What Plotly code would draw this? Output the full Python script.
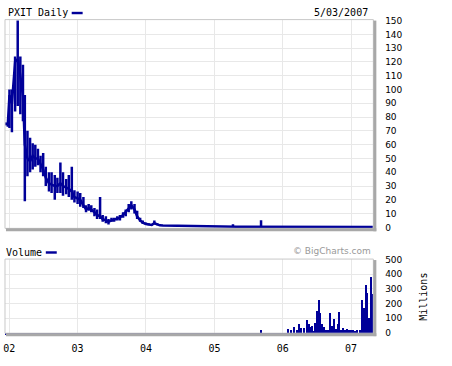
import plotly.graph_objects as go

# ---------------- data ----------------
price_dates = [
    "2001-12-10", "2001-12-24", "2002-01-02", "2002-01-15", "2002-02-01", "2002-02-15",
    "2002-03-01", "2002-03-15", "2002-03-25", "2002-04-08", "2002-04-22", "2002-05-06",
    "2002-05-20", "2002-06-03", "2002-06-17", "2002-07-01", "2002-07-15", "2002-08-01",
    "2002-08-15", "2002-09-01", "2002-09-15", "2002-10-01", "2002-10-15", "2002-11-01",
    "2002-11-15", "2002-12-01", "2002-12-15", "2003-01-01", "2003-01-15", "2003-02-01",
    "2003-02-15", "2003-03-01", "2003-03-15", "2003-04-01", "2003-04-15", "2003-05-01",
    "2003-05-15", "2003-06-01", "2003-06-15", "2003-07-01", "2003-07-15", "2003-08-01",
    "2003-08-15", "2003-09-01", "2003-09-15", "2003-10-01", "2003-10-15", "2003-11-01",
    "2003-11-15", "2003-12-01", "2003-12-15", "2004-01-01", "2004-01-15", "2004-02-01",
    "2004-02-15", "2004-03-01", "2004-03-15", "2004-04-01", "2004-05-01", "2004-06-01",
    "2004-07-01", "2004-08-01", "2004-09-01", "2004-10-01", "2004-11-01", "2004-12-01",
    "2005-01-01", "2005-02-01", "2005-03-01", "2005-04-10", "2005-05-01", "2005-06-01",
    "2005-07-01", "2005-08-01", "2005-09-07", "2005-10-01", "2005-11-01", "2005-12-01",
    "2006-01-01", "2006-02-01", "2006-03-01", "2006-04-01", "2006-05-01", "2006-06-01",
    "2006-07-01", "2006-08-01", "2006-09-01", "2006-10-01", "2006-11-01", "2006-12-01",
    "2007-01-01", "2007-02-01", "2007-03-01", "2007-04-01", "2007-04-27",
]
price_low = [
    74, 73, 72, 69, 84, 88,
    82, 77, 19, 37, 40, 42,
    44, 45, 40, 37, 30, 26,
    25, 20, 25, 25, 23, 24,
    22, 20, 18, 17, 15, 14,
    11, 12, 11, 8, 6, 6,
    4, 3, 2, 4, 4, 5,
    5, 7, 8, 11, 13, 10,
    6, 4, 2.5, 1.8, 1.5, 1.3,
    2, 1.5, 1.2, 1.0, 1.0, 0.9,
    0.8, 0.6, 0.6, 0.5, 0.6, 0.5,
    0.4, 0.4, 0.3, 0.3, 0.3, 0.3,
    0.3, 0.3, 0.3, 0.3, 0.2, 0.2,
    0.2, 0.2, 0.2, 0.2, 0.2, 0.2,
    0.2, 0.2, 0.2, 0.2, 0.2, 0.2,
    0.2, 0.2, 0.2, 0.2, 0.2,
]
price_high = [
    76, 76, 100, 100, 124, 150,
    124, 118, 96, 70, 65, 61,
    60, 57, 52, 54, 44, 40,
    40, 38, 36, 47, 40, 35,
    38, 44, 27, 26, 25, 22,
    16, 17, 16, 14, 13, 22,
    9, 8, 6, 7, 7, 8,
    9, 11, 13, 17, 19, 17,
    12, 7, 5, 3.5, 3, 2.5,
    5, 3, 2.2, 1.8, 1.5, 1.4,
    1.3, 1.1, 1.0, 0.9, 1.2, 0.9,
    0.8, 0.7, 0.6, 2.2, 0.6, 0.5,
    0.5, 0.5, 5.2, 0.5, 0.4, 0.4,
    0.5, 0.5, 0.5, 0.5, 0.5, 0.5,
    0.5, 0.5, 0.5, 0.5, 0.5, 0.5,
    0.5, 0.5, 0.5, 0.5, 0.5,
]
price_close = [
    75, 75, 96, 90, 120, 122,
    110, 95, 60, 50, 48, 52,
    50, 50, 46, 42, 36, 32,
    31, 30, 30, 32, 30, 29,
    28, 26, 22, 21, 20, 16,
    13, 14, 13, 11, 9, 8,
    6, 5, 4, 5, 5.5, 6,
    7, 9, 11, 14, 16, 13,
    8, 5, 3.5, 2.5, 2, 1.8,
    3, 2, 1.5, 1.3, 1.2, 1.1,
    1.0, 0.8, 0.8, 0.7, 0.8, 0.7,
    0.6, 0.5, 0.5, 0.4, 0.4, 0.4,
    0.4, 0.35, 0.4, 0.35, 0.3, 0.3,
    0.3, 0.3, 0.3, 0.3, 0.3, 0.3,
    0.3, 0.3, 0.3, 0.3, 0.3, 0.3,
    0.3, 0.3, 0.3, 0.3, 0.3,
]

vol_dates = [
    "2005-09-06", "2006-01-27", "2006-02-12", "2006-03-02", "2006-03-16", "2006-03-28",
    "2006-04-11", "2006-04-27", "2006-05-12", "2006-05-19", "2006-05-29", "2006-06-04",
    "2006-06-14", "2006-06-25", "2006-07-04", "2006-07-12", "2006-07-21", "2006-07-31",
    "2006-08-08", "2006-08-22", "2006-09-02", "2006-09-13", "2006-09-22", "2006-10-04",
    "2006-10-13", "2006-10-21", "2006-10-30", "2006-11-10", "2006-11-21", "2006-12-01",
    "2006-12-12", "2006-12-23", "2007-01-02", "2007-01-13", "2007-01-24", "2007-02-03",
    "2007-02-19", "2007-02-28", "2007-03-09", "2007-03-13", "2007-03-21", "2007-03-26",
    "2007-03-31", "2007-04-06", "2007-04-10", "2007-04-17", "2007-04-22", "2007-04-27",
]
vol_millions = [
    15, 23, 20, 42, 20, 58,
    33, 30, 84, 58, 40, 47,
    13, 69, 147, 220, 136, 58,
    40, 20, 15, 136, 47, 91,
    27, 60, 140, 20, 30, 20,
    25, 15, 20, 15, 12, 15,
    15, 225, 67, 170, 325, 270,
    91, 100, 78, 380, 120, 265,
]

price_ticks = list(range(0, 151, 10))
vol_ticks = [0, 100, 200, 300, 400, 500]

# ---------------- styling ----------------
BLUE = "#000099"
GRID = "#e8e8e8"
MONO = "DejaVu Sans Mono"
SANS = "Verdana, DejaVu Sans"
W, H = 452, 366


def px(x):
    return x / W


def py(y):
    return 1 - y / H


seg_x, seg_y = [], []
for d, lo, hi in zip(price_dates, price_low, price_high):
    seg_x += [d, d, None]
    seg_y += [lo, hi, None]

fig = go.Figure()
fig.add_trace(go.Scatter(x=seg_x, y=seg_y, mode="lines", line=dict(color=BLUE, width=2.5),
                         xaxis="x2", yaxis="y2", hoverinfo="skip", showlegend=False))
fig.add_trace(go.Scatter(x=price_dates, y=price_close, mode="lines",
                         line=dict(color=BLUE, width=2.5), xaxis="x2", yaxis="y2",
                         showlegend=False))
fig.add_trace(go.Bar(x=vol_dates, y=vol_millions, marker=dict(color=BLUE, line=dict(width=0)),
                     width=6 * 86400000, xaxis="x", yaxis="y", showlegend=False))

xrange = ["2001-12-09", "2007-04-30"]
xcommon = dict(type="date", range=xrange, domain=[px(3), px(373)], showgrid=True,
               gridcolor=GRID, gridwidth=1, tick0="2002-01-01", dtick="M12",
               zeroline=False)

fig.update_layout(
    width=W, height=H, margin=dict(l=0, r=0, t=0, b=0),
    paper_bgcolor="white", plot_bgcolor="white", bargap=0,
    xaxis=dict(**xcommon, anchor="y", tickformat="%y", showticklabels=True,
               ticks="outside", ticklen=5, tickcolor="rgba(0,0,0,0)",
               tickfont=dict(family=MONO, size=10, color="black"),
               showline=True, linecolor=BLUE, linewidth=2),
    xaxis2=dict(**xcommon, anchor="y2", showticklabels=False, matches="x"),
    yaxis=dict(domain=[py(337.5), py(261.5)], range=[-3.33, 503.33], side="right",
               anchor="x", tickvals=vol_ticks, showgrid=True, gridcolor=GRID,
               zeroline=False, ticks="outside", ticklen=9, tickcolor="rgba(0,0,0,0)",
               tickfont=dict(family=SANS, size=9, color="black")),
    yaxis2=dict(domain=[py(230), py(16)], range=[-0.708, 150.708], side="right",
                anchor="x2", tickvals=price_ticks, showgrid=True, gridcolor=GRID,
                zeroline=False, ticks="outside", ticklen=9, tickcolor="rgba(0,0,0,0)",
                tickfont=dict(family=SANS, size=9, color="black")),
)

shapes = []
for top, bot in [(16, 230), (261.5, 337.5)]:
    shapes.append(dict(type="rect", xref="paper", yref="paper", x0=px(3), x1=px(373),
                       y0=py(bot), y1=py(top), line=dict(color="#c8c8c8", width=1),
                       layer="above"))
    shapes.append(dict(type="line", xref="paper", yref="paper", x0=px(374.5), x1=px(374.5),
                       y0=py(bot + 3), y1=py(top + 1), line=dict(color="#a8a8a8", width=3),
                       layer="above"))
    shapes.append(dict(type="line", xref="paper", yref="paper", x0=px(4), x1=px(376),
                       y0=py(bot + 1.5), y1=py(bot + 1.5), line=dict(color="#a8a8a8", width=3),
                       layer="above"))
# legend swatches
shapes.append(dict(type="rect", xref="paper", yref="paper", x0=px(70), x1=px(81),
                   y0=py(10.5), y1=py(8), fillcolor=BLUE, line=dict(width=0)))
shapes.append(dict(type="rect", xref="paper", yref="paper", x0=px(44), x1=px(55),
                   y0=py(256), y1=py(253.5), fillcolor=BLUE, line=dict(width=0)))
fig.update_layout(shapes=shapes)

annots = [
    dict(text="PXIT Daily", x=px(4), y=py(9), xanchor="left", yanchor="middle",
         font=dict(family=MONO, size=10, color="black")),
    dict(text="5/03/2007", x=px(370), y=py(9), xanchor="right", yanchor="middle",
         font=dict(family=MONO, size=10, color="black")),
    dict(text="Volume", x=px(2), y=py(255), xanchor="left", yanchor="middle",
         font=dict(family=MONO, size=10, color="black")),
    dict(text="© BigCharts.com", x=px(373), y=py(253), xanchor="right", yanchor="middle",
         font=dict(family=SANS, size=9, color="#999999")),
    dict(text="Millions", x=px(423), y=py(300), xanchor="center", yanchor="middle",
         textangle=-90, font=dict(family=MONO, size=10, color="black")),
]
for a in annots:
    a.update(xref="paper", yref="paper", showarrow=False)
fig.update_layout(annotations=annots)

fig.write_html("out.html")
